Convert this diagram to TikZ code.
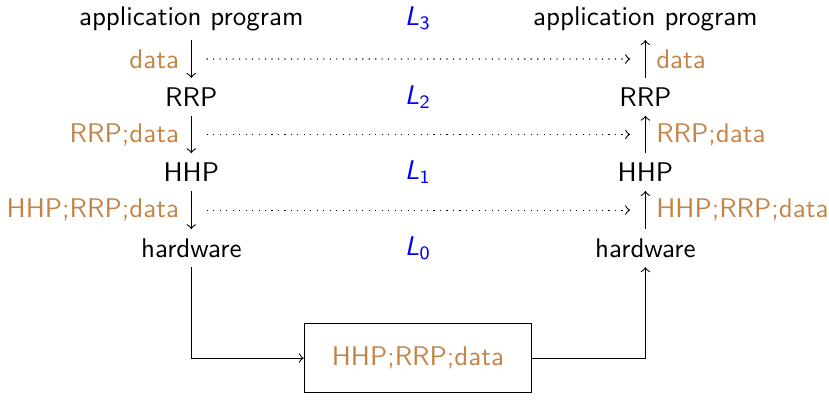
\documentclass[tikz,border=0pt]{standalone}
\usepackage{tikz}
\usetikzlibrary{positioning}
\definecolor{hdr}{RGB}{196,132,72}

\begin{document}
\begin{tikzpicture}[font=\sffamily]
\useasboundingbox (0,0) rectangle (10.79,5.21);

\foreach \n/\t/\l/\y in {app/application program/3/4.97, rrp/RRP/2/3.95, hhp/HHP/1/2.97, hw/hardware/0/1.98} % the layers
{
\node (\n L) at (2.49,\y) {\t};
\node (\n R) at (8.40,\y) {\t};
\node[text=blue] (lev\l) at (5.44,\y) {\textit{L}\textsubscript{\l}};
}

% down the sender, up the receiver
\draw[->] (appL) -- node[left=1pt,text=hdr] {data} coordinate[midway] (m3L) (rrpL);
\draw[->] (rrpL) -- node[left=1pt,text=hdr] {RRP;data} coordinate[midway] (m2L) (hhpL);
\draw[->] (hhpL) -- node[left=1pt,text=hdr] {HHP;RRP;data} coordinate[midway] (m1L) (hwL);
\draw[->] (rrpR) -- node[right=0.5pt,text=hdr] {data} coordinate[midway] (m3R) (appR);
\draw[->] (hhpR) -- node[right=0.5pt,text=hdr] {RRP;data} coordinate[midway] (m2R) (rrpR);
\draw[->] (hwR) -- node[right=0.5pt,text=hdr] {HHP;RRP;data} coordinate[midway] (m1R) (hhpR);

\foreach \k in {1,2,3} % peer links
\draw[dotted,->,shorten <=0.2cm,shorten >=0.2cm] (m\k L) -- (m\k R);

\node[draw,minimum width=2.96cm,minimum height=0.9cm,text=hdr] (wire) at (5.44,0.55) {HHP;RRP;data};
\draw[->] (hwL) |- (wire);
\draw[->] (wire) -| (hwR);

\end{tikzpicture}
\end{document}
